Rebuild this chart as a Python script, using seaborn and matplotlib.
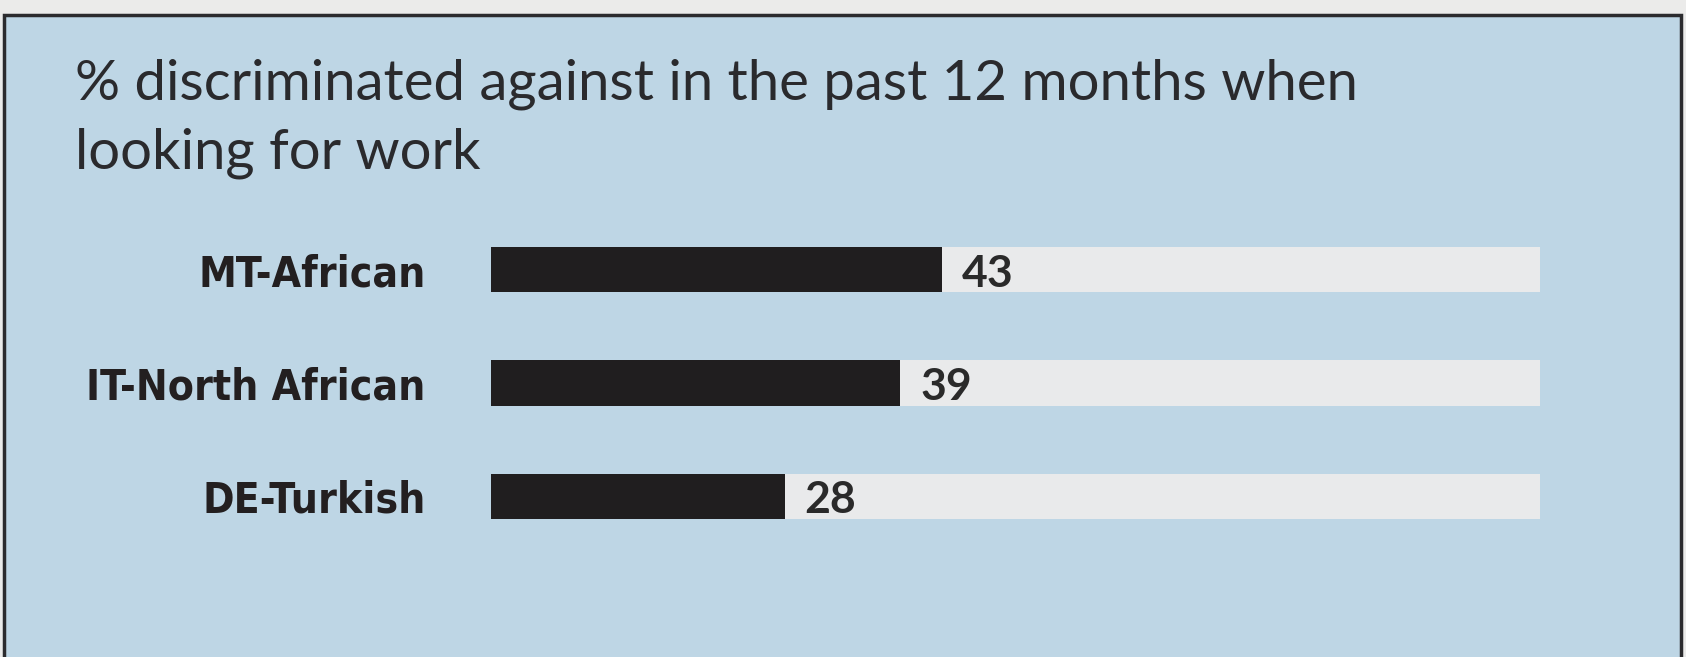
import matplotlib
matplotlib.use("Agg")
import matplotlib.pyplot as plt
import matplotlib.patches as mpatches
from matplotlib import font_manager as fm
import seaborn as sns
import pandas as pd

# ---- data ----
categories = ["MT-African", "IT-North African", "DE-Turkish"]
values = [43, 39, 28]
full_scale = [100, 100, 100]
title = "% discriminated against in the past 12 months when\nlooking for work"

df = pd.DataFrame({"group": categories, "value": values, "full": full_scale})

sns.set_theme(style="white")
plt.rcParams["font.family"] = ["Lato", "DejaVu Sans"]

# look for an installed condensed / narrow bold face for the category labels
cond_path = None
for f in fm.fontManager.ttflist:
    fname = f.fname.lower()
    if ("condensed" in fname or "narrow" in fname) and "bold" in fname \
            and "oblique" not in fname and "italic" not in fname:
        cond_path = f.fname
        break

W, H = 1686, 657
fig = plt.figure(figsize=(W / 100, H / 100), dpi=100)
fig.patch.set_facecolor("#ebebea")

# blue panel with dark border
panel = mpatches.Rectangle((4 / W, -0.05), (1681 - 4) / W, 1 - 15 / H + 0.05,
                           transform=fig.transFigure, facecolor="#bed6e5",
                           edgecolor="#2b2b2e", linewidth=2.5, zorder=-5)
fig.patches.append(panel)

fig.text(75 / W, 1 - 58 / H, title, ha="left", va="top", fontsize=40.5,
         color="#2a2a2d", linespacing=1.45, zorder=3)

ax = fig.add_axes([491 / W, 1 - 553 / H, (1540 - 491) / W, (553 - 213) / H])
ax.set_facecolor("none")
ax.set_zorder(2)

bar_w = 0.4
sns.barplot(data=df, y="group", x="full", color="#e9eaeb", width=bar_w,
            saturation=1, linewidth=0, ax=ax, zorder=1)
sns.barplot(data=df, y="group", x="value", color="#201e1f", width=bar_w,
            saturation=1, linewidth=0, ax=ax, zorder=2)

ax.set_xlim(0, 100)
ax.set_ylim(2.5, -0.5)
ax.set_xlabel("")
ax.set_ylabel("")
ax.set_xticks([])
for s in ax.spines.values():
    s.set_visible(False)

ax.tick_params(axis="y", length=0, pad=47)
for lbl in ax.get_yticklabels():
    if cond_path:
        lbl.set_fontproperties(fm.FontProperties(fname=cond_path, size=30.5))
    else:
        lbl.set_fontfamily(["Roboto", "DejaVu Sans"])
        lbl.set_fontweight("bold")
        lbl.set_fontsize(28)
    lbl.set_color("#231f20")

for i, v in enumerate(values):
    ax.text(v + 1.9, i + bar_w / 2 - 0.05, str(v), ha="left", va="baseline",
            fontsize=32, fontweight="bold", color="#2a2a2a", zorder=3)

fig.savefig("out.png", dpi=100, facecolor=fig.get_facecolor())
